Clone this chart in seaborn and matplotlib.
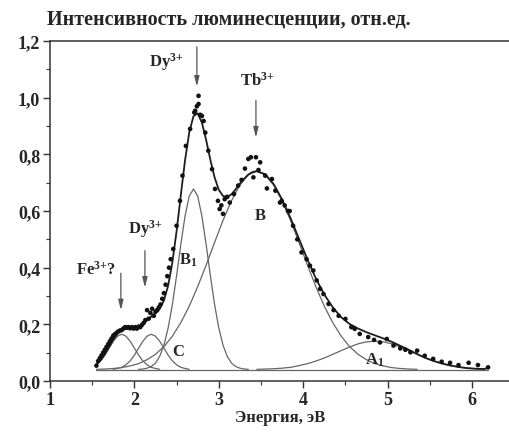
import numpy as np
import pandas as pd
import seaborn as sns
import matplotlib.pyplot as plt
from matplotlib.ticker import MultipleLocator, FuncFormatter

# measured luminescence (dots)
exp_x = [1.55, 1.57, 1.59, 1.61, 1.63, 1.65, 1.67, 1.69, 1.71, 1.73, 1.75, 1.77, 1.79, 1.81,
         1.83, 1.85, 1.87, 1.89, 1.91, 1.93, 1.95, 1.97, 1.99, 2.01, 2.03, 2.05, 2.07, 2.09,
         2.11, 2.13, 2.15, 2.17, 2.19, 2.21, 2.23, 2.25, 2.27, 2.29, 2.31, 2.33, 2.35, 2.37,
         2.39, 2.41, 2.43, 2.46, 2.50, 2.54, 2.57, 2.61, 2.66, 2.71, 2.72, 2.74, 2.76, 2.76,
         2.78, 2.80, 2.82, 2.84, 2.876, 2.92, 2.955, 2.99, 3.01, 3.03, 3.05, 3.07, 3.10, 3.13,
         3.18, 3.23, 3.27, 3.31, 3.35, 3.38, 3.41, 3.44, 3.47, 3.49, 3.55, 3.57, 3.63, 3.67,
         3.725, 3.745, 3.78, 3.82, 3.84, 3.88, 3.93, 3.98, 4.04, 4.08, 4.12, 4.16, 4.20, 4.24,
         4.30, 4.36, 4.42, 4.50, 4.57, 4.61, 4.67, 4.77, 4.84, 4.91, 4.99, 5.07, 5.15, 5.21,
         5.27, 5.35, 5.44, 5.54, 5.64, 5.74, 5.84, 5.96, 6.07, 6.19]
exp_y = [0.054, 0.07, 0.08, 0.09, 0.10, 0.11, 0.12, 0.13, 0.14, 0.15, 0.16, 0.165, 0.17, 0.175,
         0.178, 0.18, 0.185, 0.19, 0.188, 0.19, 0.186, 0.19, 0.185, 0.19, 0.185, 0.192, 0.19, 0.198,
         0.205, 0.215, 0.25, 0.22, 0.24, 0.255, 0.23, 0.245, 0.25, 0.26, 0.27, 0.29, 0.31, 0.34,
         0.37, 0.40, 0.43, 0.466, 0.548, 0.636, 0.725, 0.83, 0.89, 0.948, 0.954, 0.97, 1.007, 0.978,
         0.94, 0.936, 0.918, 0.877, 0.813, 0.748, 0.678, 0.636, 0.607, 0.62, 0.59, 0.642, 0.65, 0.63,
         0.66, 0.69, 0.71, 0.75, 0.784, 0.79, 0.719, 0.79, 0.745, 0.772, 0.725, 0.68, 0.713, 0.672,
         0.63, 0.636, 0.62, 0.60, 0.60, 0.548, 0.50, 0.454, 0.43, 0.407, 0.39, 0.355, 0.325, 0.307,
         0.272, 0.25, 0.23, 0.219, 0.19, 0.184, 0.166, 0.155, 0.145, 0.136, 0.148, 0.125, 0.115, 0.11,
         0.101, 0.107, 0.089, 0.078, 0.068, 0.064, 0.056, 0.064, 0.056, 0.048]

# fitted components
fe_x = [1.55, 1.60, 1.65, 1.70, 1.75, 1.80, 1.85, 1.90, 1.95, 2.00, 2.05, 2.10, 2.15, 2.20, 2.25, 2.30]
fe_y = [0.057, 0.071, 0.091, 0.116, 0.140, 0.158, 0.165, 0.158, 0.140, 0.116, 0.091, 0.071, 0.057,
        0.048, 0.044, 0.041]

dy_x = [1.75, 1.80, 1.85, 1.90, 1.95, 2.00, 2.05, 2.10, 2.15, 2.20, 2.25, 2.30, 2.35, 2.40, 2.45,
        2.50, 2.55, 2.60, 2.65]
dy_y = [0.041, 0.044, 0.048, 0.057, 0.071, 0.091, 0.116, 0.140, 0.158, 0.165, 0.158, 0.140, 0.116,
        0.091, 0.071, 0.057, 0.048, 0.044, 0.041]

b1_x = [2.05, 2.10, 2.15, 2.20, 2.25, 2.30, 2.35, 2.40, 2.45, 2.50, 2.55, 2.60, 2.65, 2.70, 2.75,
        2.80, 2.85, 2.90, 2.95, 3.00, 3.05, 3.10, 3.15, 3.20, 3.25, 3.30, 3.35]
b1_y = [0.041, 0.042, 0.045, 0.051, 0.063, 0.087, 0.126, 0.187, 0.270, 0.372, 0.482, 0.582, 0.653,
        0.678, 0.653, 0.582, 0.482, 0.372, 0.270, 0.187, 0.126, 0.087, 0.063, 0.051, 0.045, 0.042, 0.041]

b_x = [1.55, 1.65, 1.75, 1.85, 1.95, 2.05, 2.15, 2.25, 2.35, 2.45, 2.55, 2.65, 2.75, 2.85, 2.95,
       3.05, 3.15, 3.25, 3.35, 3.45, 3.55, 3.65, 3.75, 3.85, 3.95, 4.05, 4.15, 4.25, 4.35, 4.45,
       4.55, 4.65, 4.75, 4.85, 4.95, 5.05, 5.15, 5.25, 5.35]
b_y = [0.041, 0.042, 0.044, 0.047, 0.053, 0.061, 0.075, 0.094, 0.121, 0.158, 0.206, 0.264, 0.333,
       0.409, 0.489, 0.567, 0.636, 0.692, 0.728, 0.740, 0.728, 0.692, 0.636, 0.567, 0.489, 0.409,
       0.333, 0.264, 0.206, 0.158, 0.121, 0.094, 0.075, 0.061, 0.053, 0.047, 0.044, 0.042, 0.041]

a1_x = [3.45, 3.55, 3.65, 3.75, 3.85, 3.95, 4.05, 4.15, 4.25, 4.35, 4.45, 4.55, 4.65, 4.75, 4.85,
        4.95, 5.05, 5.15, 5.25, 5.35, 5.45, 5.55, 5.65, 5.75, 5.85, 5.95, 6.05, 6.15]
a1_y = [0.041, 0.042, 0.043, 0.045, 0.048, 0.054, 0.061, 0.070, 0.081, 0.094, 0.107, 0.120, 0.131,
        0.138, 0.140, 0.138, 0.131, 0.120, 0.107, 0.094, 0.081, 0.070, 0.061, 0.054, 0.048, 0.045,
        0.043, 0.042]

# sum of components
fit_x = [1.55, 1.60, 1.65, 1.70, 1.75, 1.80, 1.85, 1.90, 1.95, 2.00, 2.05, 2.10, 2.15, 2.20, 2.25,
         2.30, 2.35, 2.40, 2.45, 2.50, 2.55, 2.60, 2.65, 2.70, 2.75, 2.80, 2.85, 2.90, 2.95, 3.00,
         3.05, 3.10, 3.15, 3.20, 3.25, 3.30, 3.35, 3.40, 3.45, 3.55, 3.65, 3.75, 3.85, 3.95, 4.05,
         4.15, 4.25, 4.35, 4.45, 4.55, 4.65, 4.75, 4.85, 4.95, 5.05, 5.15, 5.25, 5.35, 5.45, 5.55,
         5.65, 5.75, 5.85, 5.95, 6.05, 6.15, 6.19]
fit_y = [0.058, 0.073, 0.094, 0.119, 0.146, 0.167, 0.181, 0.185, 0.184, 0.184, 0.189, 0.200, 0.214,
         0.227, 0.239, 0.255, 0.284, 0.337, 0.419, 0.529, 0.656, 0.779, 0.878, 0.935, 0.945, 0.912,
         0.851, 0.781, 0.719, 0.675, 0.653, 0.650, 0.659, 0.677, 0.697, 0.714, 0.729, 0.738, 0.741,
         0.730, 0.695, 0.641, 0.575, 0.502, 0.429, 0.362, 0.305, 0.260, 0.225, 0.201, 0.185, 0.172,
         0.161, 0.150, 0.138, 0.124, 0.110, 0.095, 0.081, 0.070, 0.061, 0.054, 0.049, 0.045, 0.043,
         0.042, 0.048]

base_x = [1.55, 6.19]
base_y = [0.04, 0.04]

sns.set_style("ticks")
plt.rcParams['font.family'] = ['Liberation Serif', 'DejaVu Serif']
plt.rcParams['font.weight'] = 'bold'
plt.rcParams['mathtext.fontset'] = 'custom'
plt.rcParams['mathtext.rm'] = 'Liberation Serif:bold'
plt.rcParams['mathtext.bf'] = 'Liberation Serif:bold'
plt.rcParams['mathtext.default'] = 'bf'

fig = plt.figure(figsize=(5.1, 4.39), dpi=100)
ax = fig.add_axes([0.098, 0.13, 0.902, 0.774])

comp_color = '#666666'
for cx, cy in [(base_x, base_y), (fe_x, fe_y), (dy_x, dy_y), (b1_x, b1_y), (b_x, b_y), (a1_x, a1_y)]:
    sns.lineplot(x=cx, y=cy, ax=ax, color=comp_color, lw=0.9, sort=False, estimator=None)
sns.lineplot(x=fit_x, y=fit_y, ax=ax, color='#1e1e1e', lw=1.3, sort=False, estimator=None)
sns.scatterplot(x=exp_x, y=exp_y, ax=ax, color='#111111', s=11, edgecolor='none', zorder=5)

ax.set_xlim(1, 6.45)
ax.set_ylim(0, 1.2)
ax.xaxis.set_major_locator(MultipleLocator(1))
ax.xaxis.set_minor_locator(MultipleLocator(0.5))
ax.yaxis.set_major_locator(MultipleLocator(0.2))
ax.yaxis.set_minor_locator(MultipleLocator(0.1))
ax.xaxis.set_major_formatter(FuncFormatter(lambda v, p: f"{v:.0f}"))
ax.yaxis.set_major_formatter(FuncFormatter(lambda v, p: f"{v:.1f}".replace('.', ',')))
ax.tick_params(which='major', direction='out', length=5, width=1, labelsize=13, pad=2, color='#333')
ax.tick_params(which='minor', direction='out', length=3, width=0.8, color='#333')
ax.spines['right'].set_visible(False)
for s in ['left', 'bottom', 'top']:
    ax.spines[s].set_color('#333')
    ax.spines[s].set_linewidth(1.1)

ax.set_xlabel("Энергия, эВ", fontsize=12, fontweight='bold', labelpad=1)
fig.text(47 / 510, 1 - 19 / 439, "Интенсивность люминесценции, отн.ед.", ha='left', va='center',
         fontsize=14.5, weight='bold')

arrow = dict(arrowstyle='-|>,head_width=0.15,head_length=0.6', color='#555', lw=0.9)
ax.annotate('', xy=(2.74, 1.03), xytext=(2.74, 1.19), arrowprops=arrow)
ax.annotate('', xy=(3.44, 0.85), xytext=(3.44, 1.0), arrowprops=arrow)
ax.annotate('', xy=(2.125, 0.32), xytext=(2.125, 0.47), arrowprops=arrow)
ax.annotate('', xy=(1.84, 0.24), xytext=(1.84, 0.39), arrowprops=arrow)

ax.text(2.38, 1.13, 'Dy$^{3{+}}$', ha='center', va='center', fontsize=12)
ax.text(3.46, 1.065, 'Tb$^{3{+}}$', ha='center', va='center', fontsize=12)
ax.text(2.13, 0.54, 'Dy$^{3{+}}$', ha='center', va='center', fontsize=12)
ax.text(1.54, 0.395, 'Fe$^{3{+}}$?', ha='center', va='center', fontsize=12)
ax.text(2.64, 0.43, 'B$_{1}$', ha='center', va='center', fontsize=12)
ax.text(3.49, 0.585, 'B', ha='center', va='center', fontsize=12)
ax.text(2.52, 0.107, 'C', ha='center', va='center', fontsize=12)
ax.text(4.85, 0.075, 'A$_{1}$', ha='center', va='center', fontsize=12)

fig.savefig('out.png', dpi=100)
